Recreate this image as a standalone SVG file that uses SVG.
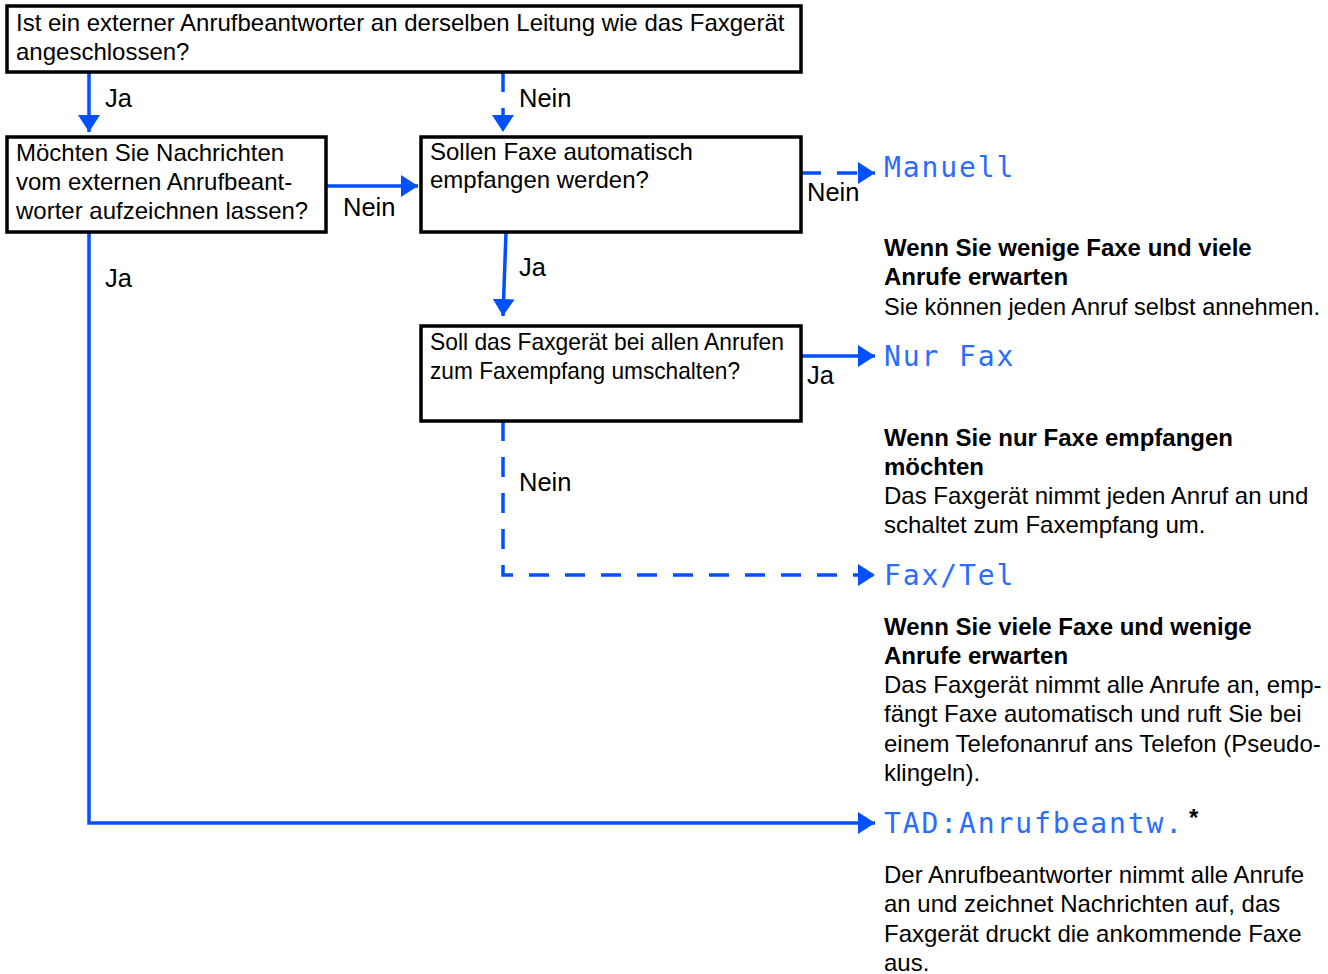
<svg xmlns="http://www.w3.org/2000/svg" width="1328" height="974" viewBox="0 0 1328 974">
<defs>
<marker id="ah" viewBox="0 0 17 22" refX="17" refY="11" markerWidth="17" markerHeight="22" markerUnits="userSpaceOnUse" orient="auto">
<path d="M0,0 L17,11 L0,22 Z" fill="#0050ff"/>
</marker>
<style>
.box{fill:#fff;stroke:#000;stroke-width:3.5}
.t{font-family:"Liberation Sans",Arial,sans-serif;font-size:24px;fill:#000}
.l{font-size:25.5px}
.b{font-weight:bold}
.lcd{font-family:"DejaVu Sans Mono","Liberation Mono",monospace;font-size:28px;fill:#2a6cff;letter-spacing:1.9px}
.c{fill:none;stroke:#0050ff;stroke-width:3.5}
.d{stroke-dasharray:20 16}
</style>
</defs>
<rect width="1328" height="974" fill="#fff"/>
<g id="connectors">
<path class="c" d="M89,72 V132" marker-end="url(#ah)"/>
<path class="c d" d="M503,72 V132" marker-end="url(#ah)"/>
<path class="c" d="M326,186 H418" marker-end="url(#ah)"/>
<path class="c" d="M506,232 L503,316" marker-end="url(#ah)"/>
<path class="c d" d="M801,173 H875" marker-end="url(#ah)"/>
<path class="c" d="M801,356 H875" marker-end="url(#ah)"/>
<path class="c d" d="M503,421 V575 H875" marker-end="url(#ah)"/>
<path class="c" d="M89,232 V823 H875" marker-end="url(#ah)"/>
<text class="t l" x="105" y="107">Ja</text>
<text class="t l" x="519" y="107">Nein</text>
<text class="t l" x="343" y="216">Nein</text>
<text class="t l" x="519" y="276">Ja</text>
<text class="t l" x="807" y="201">Nein</text>
<text class="t l" x="807" y="384">Ja</text>
<text class="t l" x="519" y="491">Nein</text>
<text class="t l" x="105" y="287">Ja</text>
</g>
<g id="q1">
<rect class="box" x="7" y="6" width="794" height="66"/>
<text class="t" x="16" y="31">Ist ein externer Anrufbeantworter an derselben Leitung wie das Faxgerät</text>
<text class="t" x="16" y="60">angeschlossen?</text>
</g>
<g id="q2">
<rect class="box" x="7" y="137" width="319" height="95"/>
<text class="t" x="16" y="161">Möchten Sie Nachrichten</text>
<text class="t" x="16" y="190">vom externen Anrufbeant-</text>
<text class="t" x="16" y="219">worter aufzeichnen lassen?</text>
</g>
<g id="q3">
<rect class="box" x="421" y="137" width="380" height="95"/>
<text class="t" x="430" y="160">Sollen Faxe automatisch</text>
<text class="t" x="430" y="188">empfangen werden?</text>
</g>
<g id="q4">
<rect class="box" x="421" y="326" width="380" height="95"/>
<text class="t" x="430" y="350" textLength="354" lengthAdjust="spacingAndGlyphs">Soll das Faxgerät bei allen Anrufen</text>
<text class="t" x="430" y="379" textLength="310" lengthAdjust="spacingAndGlyphs">zum Faxempfang umschalten?</text>
</g>
<g id="manuell">
<text class="lcd" x="884" y="177">Manuell</text>
<text class="t b" x="884" y="256">Wenn Sie wenige Faxe und viele</text>
<text class="t b" x="884" y="285">Anrufe erwarten</text>
<text class="t" x="884" y="315" textLength="436" lengthAdjust="spacingAndGlyphs">Sie können jeden Anruf selbst annehmen.</text>
</g>
<g id="nurfax">
<text class="lcd" x="884" y="366">Nur Fax</text>
<text class="t b" x="884" y="446">Wenn Sie nur Faxe empfangen</text>
<text class="t b" x="884" y="475">möchten</text>
<text class="t" x="884" y="504">Das Faxgerät nimmt jeden Anruf an und</text>
<text class="t" x="884" y="533">schaltet zum Faxempfang um.</text>
</g>
<g id="faxtel">
<text class="lcd" x="884" y="585">Fax/Tel</text>
<text class="t b" x="884" y="635">Wenn Sie viele Faxe und wenige</text>
<text class="t b" x="884" y="664">Anrufe erwarten</text>
<text class="t" x="884" y="693">Das Faxgerät nimmt alle Anrufe an, emp-</text>
<text class="t" x="884" y="722">fängt Faxe automatisch und ruft Sie bei</text>
<text class="t" x="884" y="752">einem Telefonanruf ans Telefon (Pseudo-</text>
<text class="t" x="884" y="781">klingeln).</text>
</g>
<g id="tad">
<text class="lcd" x="884" y="833">TAD:Anrufbeantw.</text>
<text class="t b" x="1189" y="826" font-size="28">*</text>
<text class="t" x="884" y="883">Der Anrufbeantworter nimmt alle Anrufe</text>
<text class="t" x="884" y="912">an und zeichnet Nachrichten auf, das</text>
<text class="t" x="884" y="942">Faxgerät druckt die ankommende Faxe</text>
<text class="t" x="884" y="971">aus.</text>
</g>
</svg>
